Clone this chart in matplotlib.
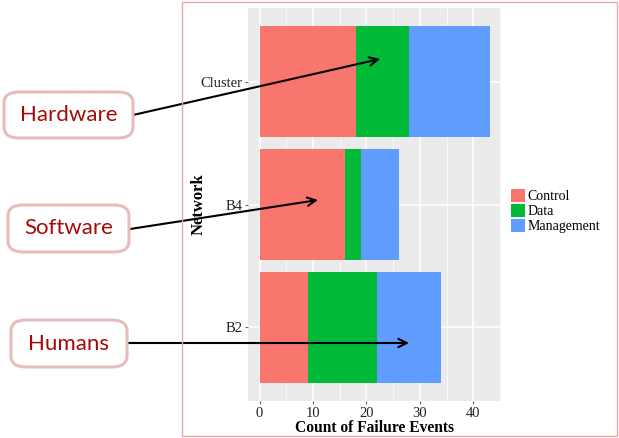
import matplotlib.pyplot as plt
from matplotlib.patches import FancyBboxPatch, Rectangle, Patch
import numpy as np

networks = ["B2", "B4", "Cluster"]
control = [9, 16, 18]
data = [13, 3, 10]
management = [12, 7, 15]
series_names = ["Control", "Data", "Management"]
colors = ["#F8766D", "#00BA38", "#619CFF"]

W, H = 619, 438
fig = plt.figure(figsize=(W / 100, H / 100), dpi=100)
ax = fig.add_axes([248 / W, 37 / H, 253 / W, 393 / H])
ax.set_facecolor("#EBEBEB")

y = np.arange(1, len(networks) + 1)
left = np.zeros(len(networks))
for vals, c, name in zip([control, data, management], colors, series_names):
    ax.barh(y, vals, left=left, height=0.9, color=c, label=name, zorder=3)
    left = left + np.array(vals)

ax.set_xlim(-2.15, 45.15)
ax.set_ylim(0.4, 3.6)
ax.set_yticks(y)
ax.set_yticklabels(networks)
ax.set_xticks([0, 10, 20, 30, 40])
ax.set_xticks([5, 15, 25, 35, 45], minor=True)
ax.grid(which="major", color="white", linewidth=1.1, zorder=0)
ax.grid(which="minor", axis="x", color="white", linewidth=0.5, zorder=0)
for s in ax.spines.values():
    s.set_visible(False)
ax.tick_params(which="major", length=2.5, color="#666666", labelsize=10.5,
               labelcolor="#222222", pad=1.5)
ax.tick_params(which="minor", length=0)
for lab in ax.get_xticklabels() + ax.get_yticklabels():
    lab.set_fontfamily("Liberation Serif")

ax.set_xlabel("Count of Failure Events", fontfamily="Liberation Serif",
              fontweight="bold", fontsize=11.2, labelpad=0)
ax.set_ylabel("Network", fontfamily="Liberation Serif", fontweight="bold",
              fontsize=12, labelpad=0)
ax.yaxis.set_label_coords(-0.163, 0.5)

handles = [Patch(facecolor=c, label=n) for c, n in zip(colors, series_names)]
leg = fig.legend(handles=handles, loc="center left",
                 bbox_to_anchor=(511 / W, 1 - 211 / H), frameon=False,
                 prop={"family": "Liberation Serif", "size": 10},
                 handlelength=1.0, handleheight=1.1, handletextpad=0.2,
                 labelspacing=0.05, borderaxespad=0, borderpad=0)

# outer border
fig.add_artist(Rectangle((182 / W, 2 / H), 435 / W, 434 / H,
                         transform=fig.transFigure, fill=False,
                         edgecolor="#E8A8A8", linewidth=1))

# callout boxes with arrows
boxes = [("Hardware", 4, 92, 129, 46, (133, 115), (380, 59)),
         ("Software", 8, 205, 121, 47, (130, 229), (318, 200)),
         ("Humans", 11, 320, 116, 47, (127, 343), (409, 343))]
for text, bx, by, bw, bh, tail, head in boxes:
    fig.add_artist(FancyBboxPatch((bx / W, 1 - (by + bh) / H), bw / W, bh / H,
                                  boxstyle="round,pad=0,rounding_size=0.025",
                                  transform=fig.transFigure, facecolor="white",
                                  edgecolor="#E6BCBC", linewidth=2.2, zorder=5))
    fig.text((bx + bw / 2) / W, 1 - (by + bh / 2) / H, text, color="#A50A0A",
             fontfamily="Lato", fontsize=16, ha="center", va="center",
             zorder=6)
    ax.annotate("", xy=(head[0] / W, 1 - head[1] / H),
                xytext=(tail[0] / W, 1 - tail[1] / H),
                xycoords="figure fraction", textcoords="figure fraction",
                arrowprops=dict(arrowstyle="->,head_length=0.6,head_width=0.3",
                                color="black", linewidth=1.5,
                                shrinkA=0, shrinkB=0),
                annotation_clip=False, zorder=10)

fig.savefig("out.png", dpi=100)
